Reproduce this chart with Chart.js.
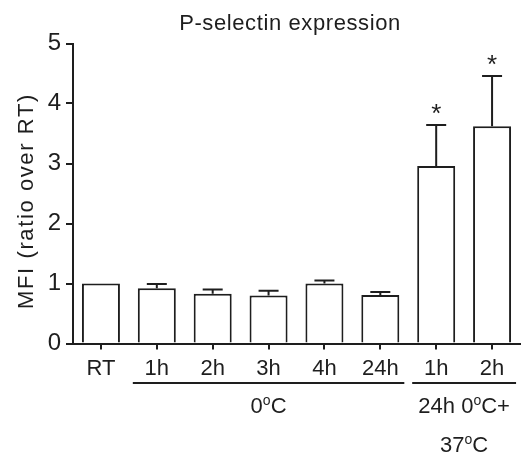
<!DOCTYPE html>
<html lang="en">
<head>
  <meta charset="UTF-8"/>
  <title>P-selectin expression</title>
  <script src="https://cdn.jsdelivr.net/npm/chart.js"></script>
  <style>
    html, body { margin: 0; padding: 0; background: #fff; }
    canvas { display: block; }
  </style>
</head>
<body>
  <canvas id="mfiChart" width="527" height="457"></canvas>
  <script>
    const categories = ["RT", "1h", "2h", "3h", "4h", "24h", "1h", "2h"];
    const mfi = [1.00, 0.92, 0.83, 0.80, 1.00, 0.81, 2.96, 3.62];
    const sem = [0, 0.07, 0.07, 0.08, 0.05, 0.05, 0.68, 0.84];
    const significant = [false, false, false, false, false, false, true, true];
    const yTicks = [0, 1, 2, 3, 4, 5];
    const groupLabels = [
      { first: 1, last: 5, lines: ["0°C"] },
      { first: 6, last: 7, lines: ["24h 0°C+", "37°C"] }
    ];
    const chartTitle = "P-selectin expression";
    const yTitle = "MFI (ratio over RT)";

    const INK = "#1e1e1e";
    const FONT = '"Liberation Sans", Arial, sans-serif';

    // text with "°" drawn as a raised small "o"
    function drawDegreeText(ctx, text, cx, baseline, size) {
      const parts = text.split("°");
      const big = size + "px " + FONT;
      const small = Math.round(size * 0.62) + "px " + FONT;
      ctx.font = small;
      const ow = ctx.measureText("o").width;
      ctx.font = big;
      const widths = parts.map(p => ctx.measureText(p).width);
      const total = widths.reduce((a, b) => a + b, 0) + ow * (parts.length - 1);
      let x = cx - total / 2;
      ctx.textAlign = "left";
      ctx.textBaseline = "alphabetic";
      parts.forEach((p, i) => {
        ctx.font = big;
        ctx.fillText(p, x, baseline);
        x += widths[i];
        if (i < parts.length - 1) {
          ctx.font = small;
          ctx.fillText("o", x, baseline - size * 0.37);
          x += ow;
        }
      });
    }

    const decorations = {
      id: "decorations",
      afterDatasetsDraw(chart) {
        const ctx = chart.ctx;
        const x = chart.scales.x;
        const y = chart.scales.y;
        const meta = chart.getDatasetMeta(0);
        ctx.save();
        ctx.strokeStyle = INK;
        ctx.fillStyle = INK;
        ctx.lineWidth = 2;

        // upward error bars + significance stars
        mfi.forEach((v, i) => {
          if (!sem[i]) return;
          const cx = meta.data[i].x;
          const top = y.getPixelForValue(v);
          const end = y.getPixelForValue(v + sem[i]);
          ctx.beginPath();
          ctx.moveTo(cx, top);
          ctx.lineTo(cx, end);
          ctx.moveTo(cx - 10, end);
          ctx.lineTo(cx + 10, end);
          ctx.stroke();
          if (significant[i]) {
            ctx.font = "26px " + FONT;
            ctx.textAlign = "center";
            ctx.textBaseline = "alphabetic";
            ctx.fillText("*", cx, end - 3);
          }
        });

        // group underlines and captions
        groupLabels.forEach(g => {
          const x0 = x.getPixelForValue(g.first) - 24;
          const x1 = x.getPixelForValue(g.last) + 24;
          ctx.beginPath();
          ctx.moveTo(x0, 383);
          ctx.lineTo(x1, 383);
          ctx.stroke();
          g.lines.forEach((line, k) => {
            drawDegreeText(ctx, line, (x0 + x1) / 2, 413 + k * 39, 22);
          });
        });

        // chart title
        ctx.font = "22px " + FONT;
        ctx.textAlign = "center";
        ctx.textBaseline = "alphabetic";
        ctx.letterSpacing = "0.6px";
        ctx.fillText(chartTitle, 290, 30);

        // y axis title
        ctx.translate(33, 201);
        ctx.rotate(-Math.PI / 2);
        ctx.letterSpacing = "1.6px";
        ctx.fillText(yTitle, 0, 0);
        ctx.restore();
      }
    };

    new Chart(document.getElementById("mfiChart"), {
      type: "bar",
      data: {
        labels: categories,
        datasets: [{
          data: mfi,
          backgroundColor: "#ffffff",
          borderColor: INK,
          borderWidth: 2,
          barPercentage: 0.68,
          categoryPercentage: 1
        }]
      },
      options: {
        responsive: false,
        animation: false,
        layout: { padding: { top: 43.5, left: 0, right: 7, bottom: 0 } },
        plugins: {
          legend: { display: false },
          tooltip: { enabled: false }
        },
        scales: {
          x: {
            afterFit: s => { s.height = 113.5; },
            border: { display: true, color: INK, width: 2 },
            grid: {
              offset: false,
              drawOnChartArea: false,
              drawTicks: true,
              tickLength: 6,
              color: INK,
              lineWidth: 2
            },
            ticks: {
              color: INK,
              padding: 6,
              maxRotation: 0,
              font: { family: FONT, size: 22 }
            }
          },
          y: {
            min: 0,
            max: 5,
            afterFit: s => { s.width = 73; },
            afterBuildTicks: s => { s.ticks = yTicks.map(v => ({ value: v })); },
            border: { display: true, color: INK, width: 2 },
            grid: {
              drawOnChartArea: false,
              drawTicks: true,
              tickLength: 7,
              color: INK,
              lineWidth: 2
            },
            ticks: {
              color: INK,
              padding: 5,
              font: { family: FONT, size: 24 }
            }
          }
        }
      },
      plugins: [decorations]
    });
  </script>
</body>
</html>
